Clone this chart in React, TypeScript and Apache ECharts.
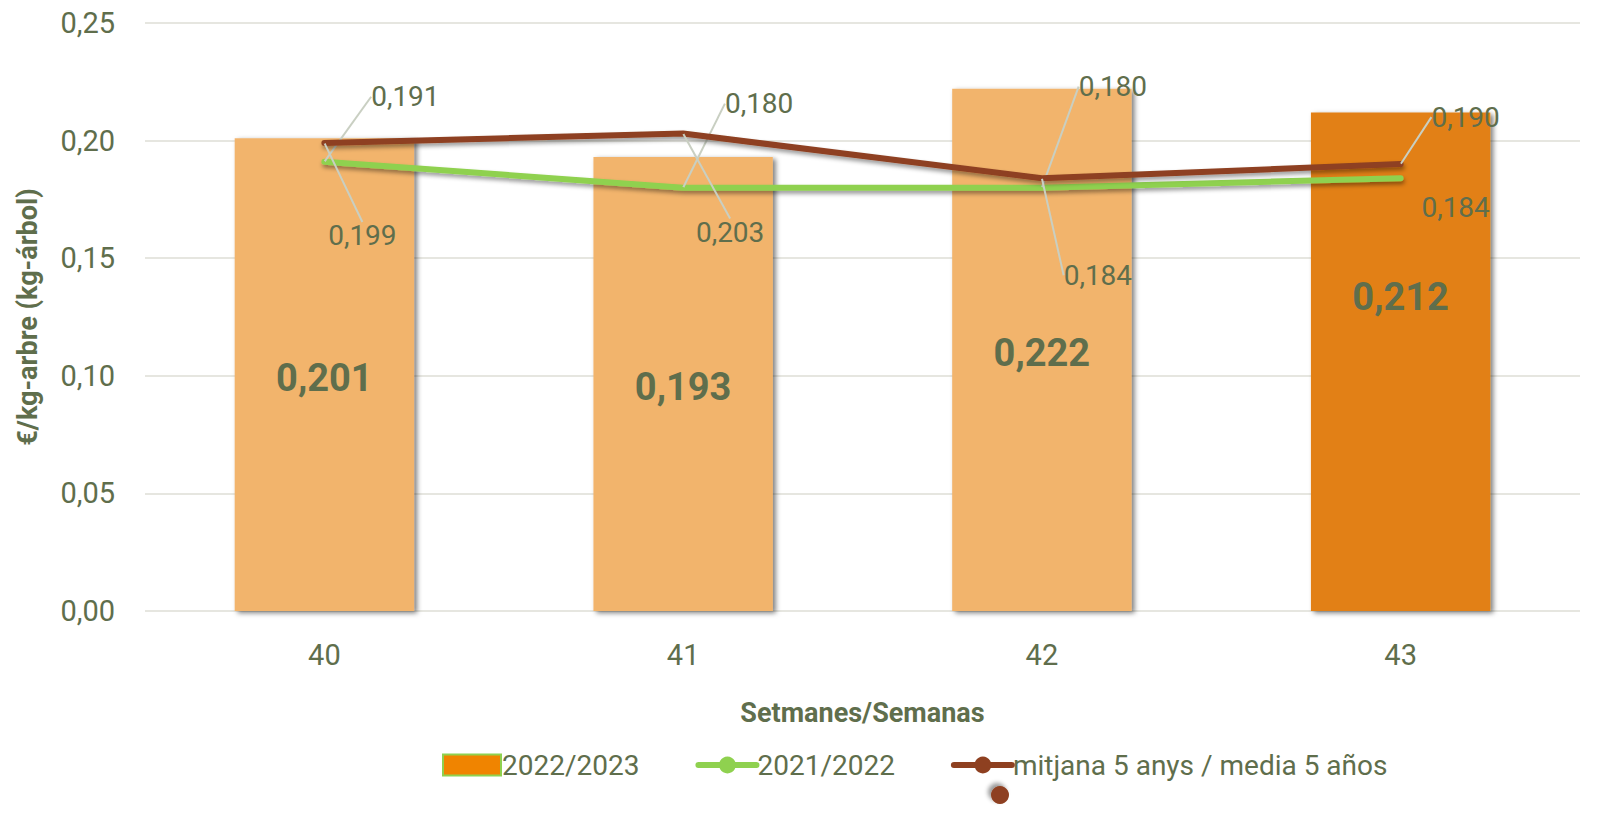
import React, { useEffect, useRef } from "react";
import * as echarts from "echarts";

const categories = ["40", "41", "42", "43"];
const season2223 = [0.201, 0.193, 0.222, 0.212];
const season2122 = [0.191, 0.18, 0.18, 0.184];
const average5 = [0.199, 0.203, 0.184, 0.19];
const yTicks = [0, 0.05, 0.1, 0.15, 0.2, 0.25];

const TEXT = "#5f6e4c";
const FONT = "Roboto";

// label offsets relative to the point (label placement only)
const greenOffsets = [[81, -65], [76, -84], [71, -101], [55, 29]];
const brownOffsets = [[38, 93], [47, 99], [56, 97], [65, -47]];

const fmt = (v: number, d: number) => v.toFixed(d).replace(".", ",");

export default function App() {
  const ref = useRef<HTMLDivElement>(null);
  useEffect(() => {
    document.body.style.margin = "0";
    const chart = echarts.init(ref.current!, null, { renderer: "svg" });
    const labelStyle = { color: TEXT, fontFamily: FONT, fontSize: 28 };
    chart.setOption({
      animation: false,
      textStyle: { fontFamily: FONT },
      grid: { left: 145, right: 28, top: 23, bottom: 211 },
      legend: {
        left: 437,
        top: 746,
        itemWidth: 58,
        itemHeight: 21,
        itemGap: 56,
        lineStyle: { width: 6, cap: "round" },
        textStyle: { color: TEXT, fontFamily: FONT, fontSize: 28, padding: [0, 0, 0, -4] },
        data: [
          { name: "2022/2023", icon: "rect", itemStyle: { color: "#f08400", borderColor: "#8fd14f", borderWidth: 2 } },
          { name: "2021/2022" },
          { name: "mitjana 5 anys / media 5 años" },
        ],
      },
      xAxis: {
        type: "category",
        data: categories,
        axisTick: { show: false },
        axisLine: { show: false },
        axisLabel: { color: TEXT, fontSize: 29, margin: 29, fontFamily: FONT },
        name: "Setmanes/Semanas",
        nameLocation: "middle",
        nameGap: 88,
        nameTextStyle: { color: TEXT, fontSize: 27, fontWeight: "bold", fontFamily: FONT },
      },
      yAxis: {
        type: "value",
        min: yTicks[0],
        max: yTicks[yTicks.length - 1],
        interval: 0.05,
        axisLabel: { color: TEXT, fontSize: 29, margin: 30, fontFamily: FONT, formatter: (v: number) => fmt(v, 2) },
        splitLine: { lineStyle: { color: "#e6e6e0", width: 2 } },
        name: "€/kg-arbre (kg-árbol)",
        nameLocation: "middle",
        nameGap: 104,
        nameTextStyle: { color: TEXT, fontSize: 27, fontWeight: "bold", fontFamily: FONT },
      },
      series: [
        {
          name: "2022/2023",
          type: "bar",
          barWidth: "50%",
          data: season2223.map((v, i) =>
            i === season2223.length - 1
              ? { value: v, itemStyle: { color: "#e28012" }, label: { offset: [0, -65] } }
              : { value: v }
          ),
          itemStyle: {
            color: "#f2b46c",
            shadowColor: "rgba(0,0,0,0.5)",
            shadowBlur: 5,
            shadowOffsetX: 3,
            shadowOffsetY: 2,
          },
          label: {
            show: true,
            position: "inside",
            color: TEXT,
            fontFamily: FONT,
            fontSize: 38,
            fontWeight: "bold",
            offset: [0, 3],
            formatter: (p: any) => fmt(p.value, 3),
          },
          z: 1,
        },
        {
          name: "2021/2022",
          type: "line",
          data: season2122.map((v, i) => ({ value: v, labelLine: { show: i !== 3 } })),
          symbol: "circle",
          symbolSize: 1,
          color: "#8fd14f",
          itemStyle: { color: "#8fd14f" },
          lineStyle: { width: 6, color: "#8fd14f", cap: "round", shadowColor: "rgba(0,0,0,0.4)", shadowBlur: 4, shadowOffsetY: 3, shadowOffsetX: 1 },
          label: { show: true, position: "inside", ...labelStyle, formatter: (p: any) => fmt(p.value, 3) },
          labelLine: { show: true, lineStyle: { color: "#c9cfc2", width: 2 } },
          labelLayout: (p: any) => ({ dx: greenOffsets[p.dataIndex][0], dy: greenOffsets[p.dataIndex][1] }),
          z: 3,
        },
        {
          name: "mitjana 5 anys / media 5 años",
          type: "line",
          data: average5,
          symbol: "circle",
          symbolSize: 1,
          color: "#8e4020",
          itemStyle: { color: "#8e4020" },
          lineStyle: { width: 6, color: "#8e4020", cap: "round", shadowColor: "rgba(0,0,0,0.4)", shadowBlur: 4, shadowOffsetY: 3, shadowOffsetX: 1 },
          label: { show: true, position: "inside", ...labelStyle, formatter: (p: any) => fmt(p.value, 3) },
          labelLine: { show: true, lineStyle: { color: "#c9cfc2", width: 2 } },
          labelLayout: (p: any) => ({ dx: brownOffsets[p.dataIndex][0], dy: brownOffsets[p.dataIndex][1] }),
          z: 4,
        },
      ],
      graphic: [
        {
          type: "circle",
          left: 991,
          top: 786,
          shape: { r: 9 },
          style: { fill: "#8e4020", shadowColor: "rgba(0,0,0,0.4)", shadowBlur: 4, shadowOffsetX: -3, shadowOffsetY: -3 },
        },
      ],
    });
    return () => chart.dispose();
  }, []);
  return <div ref={ref} style={{ width: 1608, height: 822 }} />;
}
